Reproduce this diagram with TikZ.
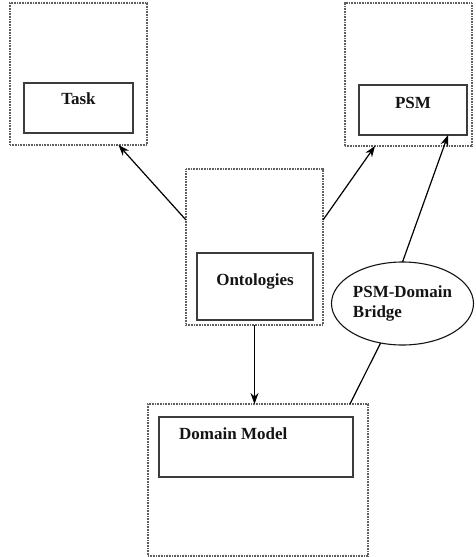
\documentclass[tikz,border=0pt]{standalone}
\usepackage{fontspec}
\setmainfont{Liberation Serif}
\usetikzlibrary{arrows.meta,shapes.geometric}

\definecolor{framegray}{RGB}{95,95,95}
\definecolor{boxgray}{RGB}{60,60,60}
\definecolor{inkc}{RGB}{20,20,20}

\tikzset{
  outerbox/.style={draw=framegray, line width=1.2pt, dash pattern=on 1pt off 0.6pt,
                   rectangle, inner sep=0pt, outer sep=0pt},
  innerbox/.style={draw=boxgray, line width=1.3pt, rectangle, inner sep=0pt, outer sep=0pt},
  lbl/.style={font=\bfseries\fontsize{17}{19.5}\selectfont, text=inkc, inner sep=0pt},
  bridgeshape/.style={draw=inkc, line width=1.1pt, ellipse, inner sep=0pt, outer sep=0pt,
                      minimum width=142pt, minimum height=83pt, align=left,
                      font=\bfseries\fontsize{17}{19.5}\selectfont, text=inkc},
  link/.style={draw=black, line width=1.2pt},
  arrowlink/.style={link, -{Stealth[length=11pt,width=8pt]}}
}

\begin{document}
\begin{tikzpicture}[x=1pt,y=-1pt]
  \useasboundingbox (0,0) rectangle (475,557);

  % outer containers
  \node[outerbox, minimum width=137pt, minimum height=142pt] (task) at (78.5,74) {};
  \node[outerbox, minimum width=127pt, minimum height=143pt] (psm) at (408.5,74.5) {};
  \node[outerbox, minimum width=137pt, minimum height=156pt] (onto) at (254.5,247) {};
  \node[outerbox, minimum width=220pt, minimum height=152pt] (domain) at (258,480) {};

  % inner boxes
  \node[innerbox, minimum width=109pt, minimum height=50pt] (taskin) at (78.5,108) {};
  \node[innerbox, minimum width=108pt, minimum height=50pt] (psmin) at (413,110) {};
  \node[innerbox, minimum width=116pt, minimum height=67pt] (ontoin) at (255,286.5) {};
  \node[innerbox, minimum width=194pt, minimum height=60pt] (domin) at (256,447) {};

  % labels
  \node[lbl] (tasklbl) at ([yshift=-16pt]taskin.north) {Task};
  \node[lbl] (psmlbl) at ([yshift=-18pt]psmin.north) {PSM};
  \node[lbl] (ontolbl) at ([yshift=-28pt]ontoin.north) {Ontologies};
  \node[lbl, anchor=west] (domlbl) at ([xshift=20pt,yshift=-17pt]domin.north west) {Domain Model};

  % bridge
  \node[bridgeshape] (bridge) at (402.5,303.5) {PSM-Domain\\Bridge};

  % connectors
  \draw[arrowlink] ([yshift=27pt]onto.west) -- ([xshift=40pt]task.south);
  \draw[arrowlink] ([yshift=27pt]onto.east) -- ([xshift=-33.5pt]psm.south);
  \draw[arrowlink] (onto.south) -- (onto.south |- domain.north);
  \draw[arrowlink] (bridge.north) -- ([xshift=35pt]psmin.south);
  \draw[link] (bridge.241) -- ([xshift=92pt]domain.north);
\end{tikzpicture}
\end{document}
